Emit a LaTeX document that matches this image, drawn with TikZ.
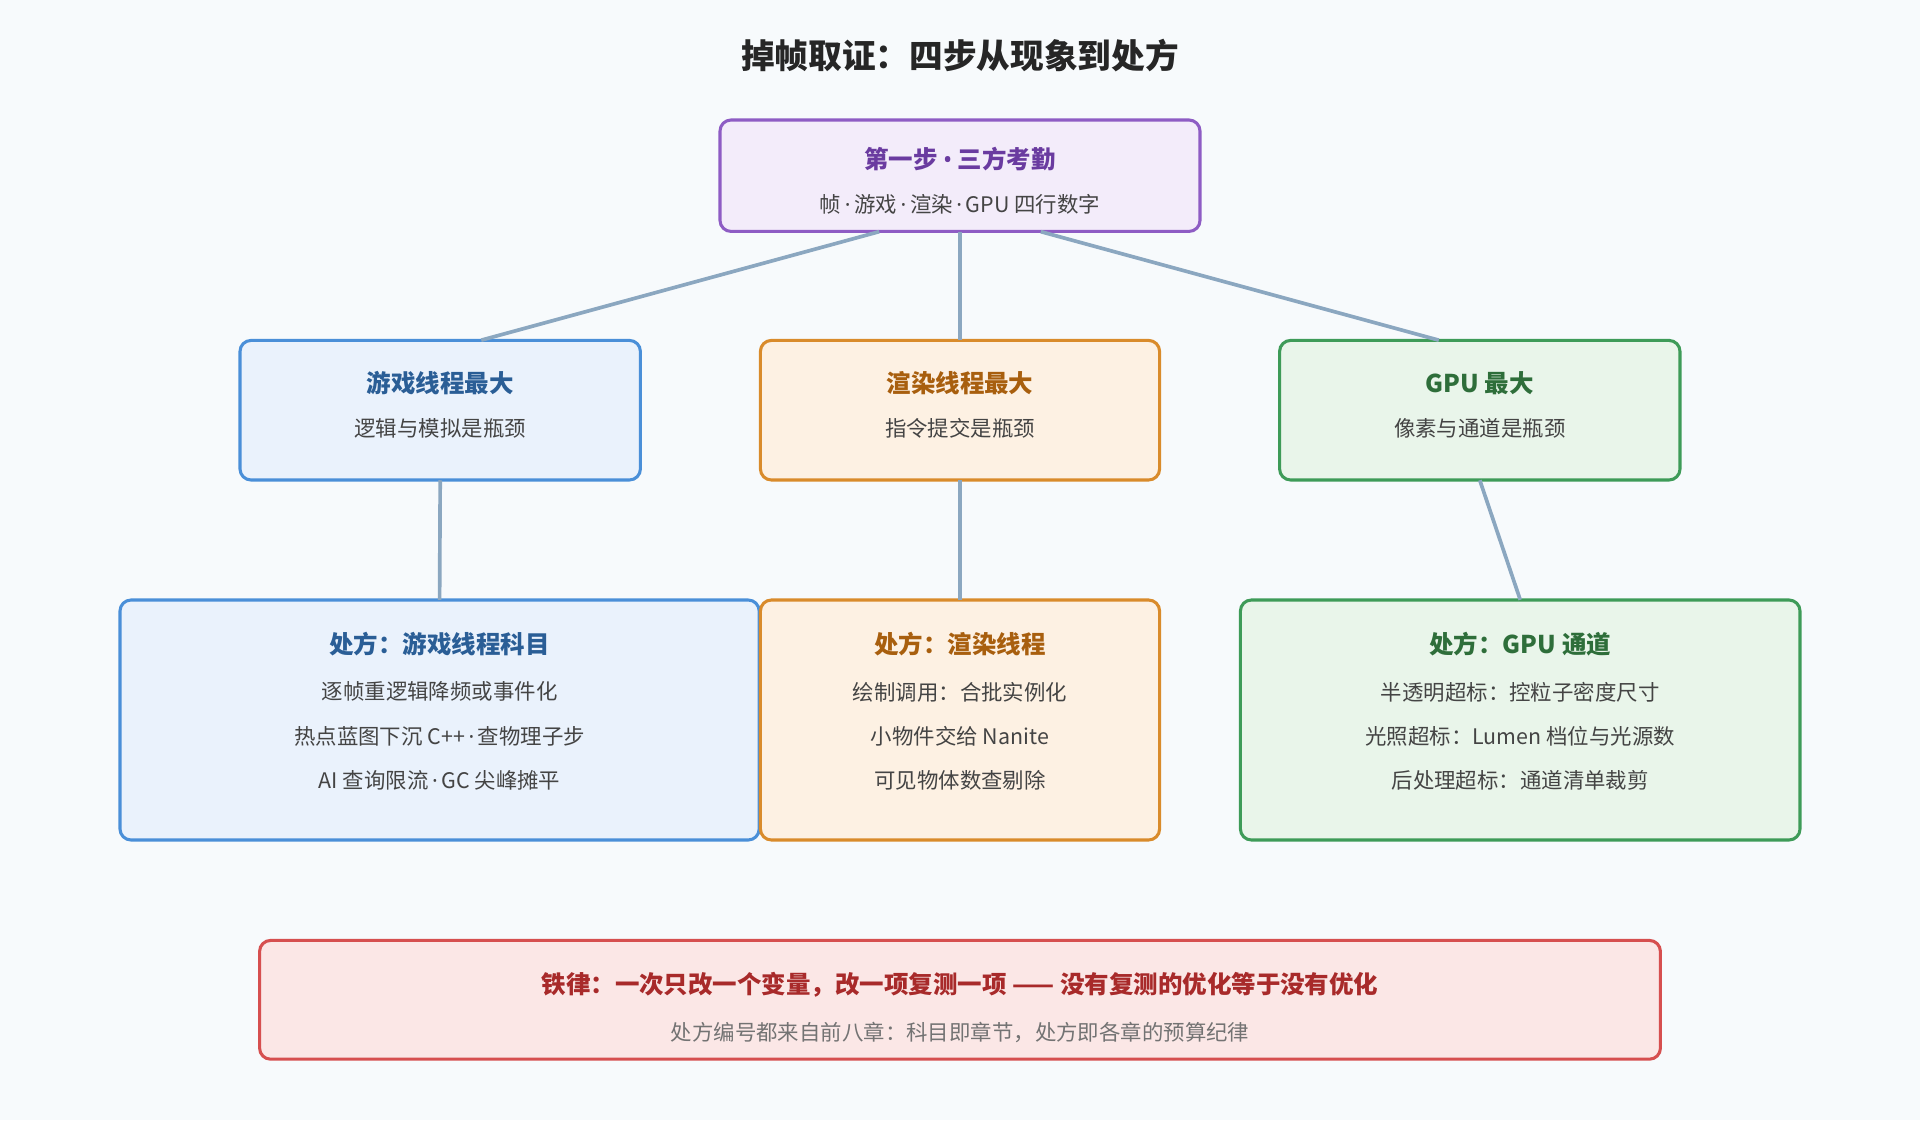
\documentclass[tikz,border=0pt]{standalone}
\usepackage{fontspec}
\setmainfont{Noto Sans CJK SC}
\newfontfamily\latf{Noto Sans}
\newcommand{\md}{{\latf\,·\,}}
\usetikzlibrary{calc}
\definecolor{bgc}{HTML}{F7FAFC}
\definecolor{linkc}{HTML}{8BA7C0}
\definecolor{purpF}{HTML}{F3ECFA}\definecolor{purpD}{HTML}{8E5CC4}\definecolor{purpT}{HTML}{6A3BA0}
\definecolor{blueF}{HTML}{EAF2FC}\definecolor{blueD}{HTML}{4A8FD8}\definecolor{blueT}{HTML}{2A5E96}
\definecolor{oranF}{HTML}{FDF1E3}\definecolor{oranD}{HTML}{D98B2B}\definecolor{oranT}{HTML}{A85F0E}
\definecolor{grenF}{HTML}{E9F5EA}\definecolor{grenD}{HTML}{3E9B58}\definecolor{grenT}{HTML}{2E6E3A}
\definecolor{redF}{HTML}{FBE7E6}\definecolor{redD}{HTML}{D64F4F}\definecolor{redT}{HTML}{A82A2A}
\definecolor{txt}{HTML}{444444}
\tikzset{
  card/.style={draw=#1D,fill=#1F,line width=2.5pt,rounded corners=9pt,inner sep=0pt},
  head/.style={font=\fontsize{20}{20}\selectfont\bfseries,text=#1T},
  line/.style={font=\fontsize{17.5}{17.5}\selectfont,text=txt},
  link/.style={draw=linkc,line width=3pt}
}
\begin{document}
\begin{tikzpicture}[x=1pt,y=-1pt]
  \useasboundingbox[fill=bgc] (0,0) rectangle (1568,915);
  \node[font=\fontsize{27.5}{27.5}\selectfont\bfseries,text=black!85] (title) at (784,45) {掉帧取证：四步从现象到处方};

  % boxes
  \draw[card=purp] (588,98) rectangle (980,189);
  \node (top) at (784,143.5) [minimum width=392pt,minimum height=91pt] {};
  \node[head=purp] at (784,130) {第一步 {\latf•} 三方考勤};
  \node[line] at (784,167) {帧\md{}游戏\md{}渲染\md{}GPU 四行数字};

  \draw[card=blue] (196,278) rectangle (523,392);
  \node (game) at (359.5,335) [minimum width=327pt,minimum height=114pt] {};
  \node[head=blue] at (359.5,313) {游戏线程最大};
  \node[line] at (359.5,350) {逻辑与模拟是瓶颈};

  \draw[card=oran] (621,278) rectangle (947,392);
  \node (rend) at (784,335) [minimum width=326pt,minimum height=114pt] {};
  \node[head=oran] at (784,313) {渲染线程最大};
  \node[line] at (784,350) {指令提交是瓶颈};

  \draw[card=gren] (1045,278) rectangle (1372,392);
  \node (gpu) at (1208.5,335) [minimum width=327pt,minimum height=114pt] {};
  \node[head=gren] at (1208.5,313) {GPU 最大};
  \node[line] at (1208.5,350) {像素与通道是瓶颈};

  \draw[card=blue] (98,490) rectangle (620,686);
  \node (fixgame) at (359,588) [minimum width=522pt,minimum height=196pt] {};
  \node[head=blue] at (359,526) {处方：游戏线程科目};
  \node[line] at (359,565) {逐帧重逻辑降频或事件化};
  \node[line] at (359,601) {热点蓝图下沉 C++\md{}查物理子步};
  \node[line] at (359,637) {AI 查询限流\md{}GC 尖峰摊平};

  \draw[card=oran] (621,490) rectangle (947,686);
  \node (fixrend) at (784,588) [minimum width=326pt,minimum height=196pt] {};
  \node[head=oran] at (784,526) {处方：渲染线程};
  \node[line] at (784,565) {绘制调用：合批实例化};
  \node[line] at (784,601) {小物件交给 Nanite};
  \node[line] at (784,637) {可见物体数查剔除};

  \draw[card=gren] (1013,490) rectangle (1470,686);
  \node (fixgpu) at (1241.5,588) [minimum width=457pt,minimum height=196pt] {};
  \node[head=gren] at (1241.5,526) {处方：GPU 通道};
  \node[line] at (1241.5,565) {半透明超标：控粒子密度尺寸};
  \node[line] at (1241.5,601) {光照超标：Lumen 档位与光源数};
  \node[line] at (1241.5,637) {后处理超标：通道清单裁剪};

  \draw[card=red] (212,768) rectangle (1356,865);
  \node (law) at (784,816.5) [minimum width=1144pt,minimum height=97pt] {};
  \node[head=red] at (784,804) {铁律：一次只改一个变量，改一项复测一项 —— 没有复测的优化等于没有优化};
  \node[line,text=black!55] at (784,843) {处方编号都来自前八章：科目即章节，处方即各章的预算纪律};

  % connectors
  \draw[link] ($(top.south)+(-66,0)$) -- ($(game.north)+(33.5,0)$);
  \draw[link] (top.south) -- (rend.north);
  \draw[link] ($(top.south)+(66,0)$) -- ($(gpu.north)+(-33.5,0)$);
  \draw[link] (game.south) -- (fixgame.north);
  \draw[link] (rend.south) -- (fixrend.north);
  \draw[link] (gpu.south) -- (fixgpu.north);
\end{tikzpicture}
\end{document}
